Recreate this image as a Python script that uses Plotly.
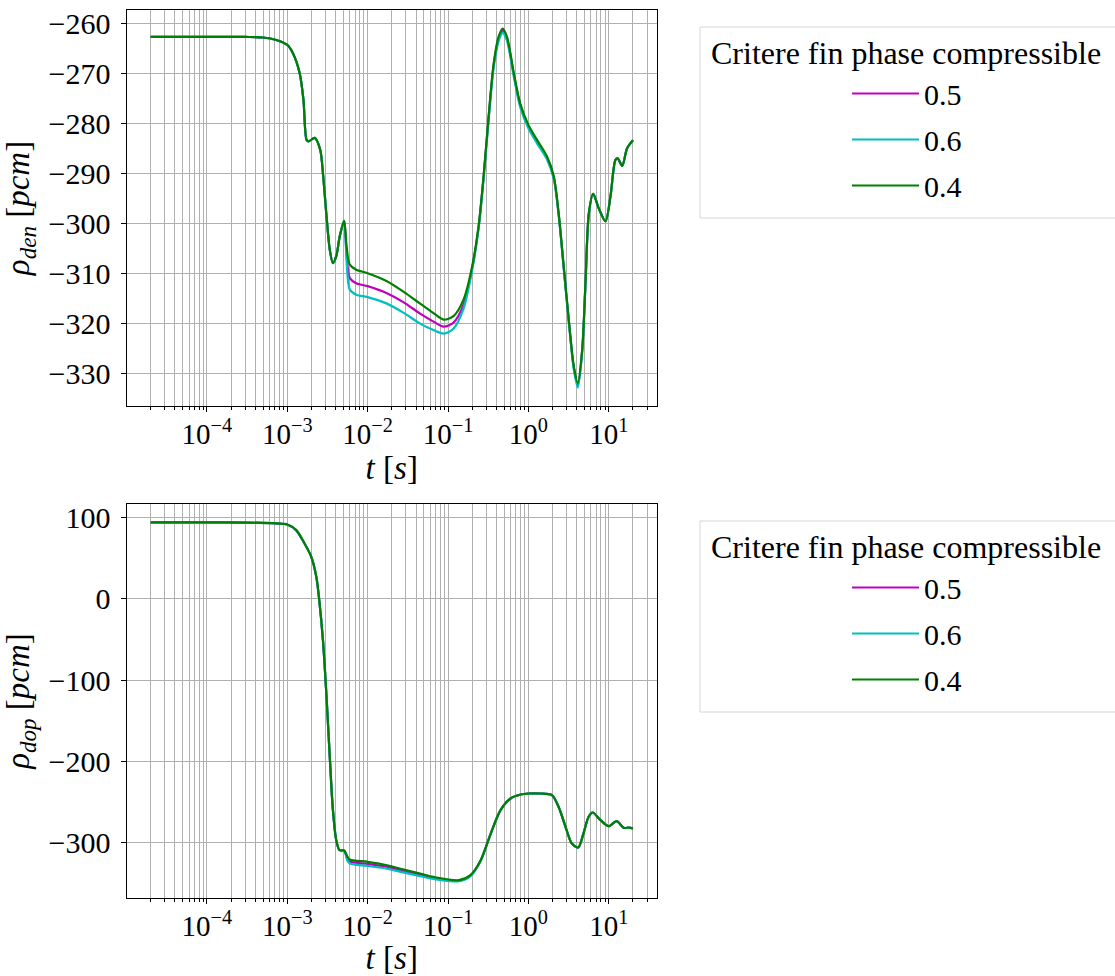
import plotly.graph_objects as go
import numpy as np

# ---------------- data ----------------
series_names = ["0.5", "0.6", "0.4"]
series_colors = ["#bf00bf", "#00bfbf", "#008000"]

t_den = [2e-5, 1e-4, 3e-4, 5e-4, 7.3e-4, 1e-3, 1.18e-3, 1.43e-3, 1.59e-3, 1.74e-3,
         1.85e-3, 2.2e-3, 2.57e-3, 2.8e-3, 3.08e-3, 3.38e-3, 3.7e-3, 4.07e-3, 4.5e-3, 5.1e-3,
         5.47e-3, 6e-3, 7.2e-3, 1e-2, 1.74e-2, 2.78e-2, 4.5e-2, 6.6e-2, 8.8e-2, 0.117,
         0.156, 0.2, 0.24, 0.277, 0.32, 0.37, 0.427, 0.479, 0.54, 0.66,
         0.79, 1.0, 1.28, 1.7, 2.07, 2.38, 2.75, 3.18, 3.67, 4.12,
         4.67, 5.13, 5.65, 6.4, 7.5, 9.1, 10.5, 12.1, 12.9, 14.7,
         16.9, 20.0]

den_04 = [-262.6, -262.6, -262.6, -262.7, -263.2, -264.2, -265.9, -269.9, -275.2, -283.2,
          -283.5, -282.8, -285.2, -290.5, -298.5, -305.2, -307.9, -306.5, -302.5, -299.4,
          -304.5, -308.2, -309.2, -309.9, -311.5, -313.6, -316.0, -317.9, -319.2, -318.5,
          -315.2, -308.5, -300.5, -290.5, -278.5, -267.9, -262.5, -260.9, -262.5, -269.9,
          -275.9, -280.2, -283.2, -286.5, -290.5, -297.9, -308.5, -319.2, -328.5, -331.9,
          -325.2, -311.9, -297.9, -294.0, -296.9, -299.5, -294.5, -287.2, -286.9, -288.4,
          -284.9, -283.3]

den_05 = [-262.6, -262.6, -262.6, -262.7, -263.2, -264.2, -265.9, -269.9, -275.2, -283.2,
          -283.5, -282.8, -285.2, -290.5, -298.5, -305.2, -307.9, -306.5, -302.5, -299.4,
          -306.0, -310.9, -311.9, -312.5, -313.9, -315.7, -318.0, -319.6, -320.6, -319.8,
          -316.2, -308.8, -300.7, -290.7, -278.8, -268.2, -262.9, -261.3, -262.9, -270.2,
          -276.2, -280.5, -283.5, -286.8, -290.8, -298.1, -308.7, -319.4, -328.8, -332.3,
          -325.4, -312.0, -298.0, -294.0, -296.9, -299.5, -294.5, -287.2, -286.9, -288.4,
          -284.9, -283.3]

den_06 = [-262.6, -262.6, -262.6, -262.7, -263.2, -264.2, -265.9, -269.9, -275.2, -283.2,
          -283.5, -282.8, -285.2, -290.5, -298.5, -305.2, -307.9, -306.5, -302.5, -299.4,
          -307.5, -313.2, -314.2, -314.7, -316.0, -317.8, -320.0, -321.3, -322.0, -321.0,
          -317.0, -309.2, -301.0, -291.0, -279.2, -268.7, -263.4, -261.8, -263.3, -270.6,
          -276.6, -280.9, -283.9, -287.1, -291.0, -298.3, -308.9, -319.6, -329.1, -332.8,
          -325.7, -312.2, -298.1, -294.0, -296.9, -299.5, -294.5, -287.2, -286.9, -288.4,
          -284.9, -283.3]

t_dop = [2e-5, 1e-4, 3e-4, 7.3e-4, 1e-3, 1.29e-3, 1.64e-3, 1.99e-3, 2.3e-3, 2.5e-3,
         2.78e-3, 3.08e-3, 3.38e-3, 3.7e-3, 4.07e-3, 4.47e-3, 5.1e-3, 5.6e-3, 6e-3, 1e-2,
         1.74e-2, 2.5e-2, 4.5e-2, 6.6e-2, 0.137, 0.19, 0.255, 0.34, 0.45, 0.6,
         0.8, 1.0, 1.4, 1.96, 2.38, 2.9, 3.47, 4.17, 4.84, 5.6,
         6.3, 7.9, 10.0, 12.5, 15.4, 17.8, 20.0]

dop_04 = [93.7, 93.6, 93.5, 92.4, 91.2, 84.2, 67.8, 51.4, 26.8, -1.8,
          -51.0, -120.7, -194.5, -260.0, -296.9, -309.2, -309.5, -317.0, -320.6, -323.5,
          -327.6, -331.7, -337.8, -342.0, -346.0, -339.9, -321.5, -288.7, -260.0, -245.6,
          -240.7, -239.5, -239.5, -241.5, -256.0, -280.5, -301.0, -305.8, -288.7, -268.3,
          -262.8, -272.3, -279.7, -273.5, -281.7, -281.3, -282.5]

dop_05 = [93.7, 93.6, 93.5, 92.4, 91.2, 84.2, 67.8, 51.4, 26.8, -1.8,
          -51.0, -120.7, -194.5, -260.0, -296.9, -309.2, -309.5, -319.5, -323.0, -326.0,
          -329.5, -333.5, -339.5, -343.5, -346.8, -340.4, -321.8, -288.7, -260.0, -245.6,
          -240.7, -239.5, -239.5, -241.5, -256.0, -280.5, -301.0, -305.8, -288.7, -268.3,
          -262.8, -272.3, -279.7, -273.5, -281.7, -281.3, -282.5]

dop_06 = [93.7, 93.6, 93.5, 92.4, 91.2, 84.2, 67.8, 51.4, 26.8, -1.8,
          -51.0, -120.7, -194.5, -260.0, -296.9, -309.2, -309.5, -322.0, -325.5, -328.5,
          -332.0, -335.5, -341.0, -344.5, -347.2, -341.0, -322.5, -289.0, -260.0, -245.6,
          -240.7, -239.5, -239.5, -241.5, -256.0, -280.5, -301.0, -305.8, -288.7, -268.3,
          -262.8, -272.3, -279.7, -273.5, -281.7, -281.3, -282.5]

major_ticks = [1e-4, 1e-3, 1e-2, 1e-1, 1e0, 1e1]
major_text = ["10<sup>−4</sup>", "10<sup>−3</sup>", "10<sup>−2</sup>",
              "10<sup>−1</sup>", "10<sup>0</sup>", "10<sup>1</sup>"]
den_ticks = [-330, -320, -310, -300, -290, -280, -270, -260]
dop_ticks = [-300, -200, -100, 0, 100]

legend_title = "Critere fin phase compressible"

# ---------------- figure ----------------
W, H = 1115, 976
FONT = "Liberation Serif"

minor_ticks = [k * 10.0 ** e for e in range(-5, 2) for k in range(2, 10)]

fig = go.Figure()

for name, color, yv in zip(series_names, series_colors, [den_05, den_06, den_04]):
    fig.add_trace(go.Scatter(x=t_den, y=yv, mode="lines", name=name,
                             line=dict(color=color, width=2.2, shape="spline", smoothing=0.8),
                             xaxis="x", yaxis="y", legend="legend", legendgroup="a" + name))
for name, color, yv in zip(series_names, series_colors, [dop_05, dop_06, dop_04]):
    fig.add_trace(go.Scatter(x=t_dop, y=yv, mode="lines", name=name,
                             line=dict(color=color, width=2.2, shape="spline", smoothing=0.8),
                             xaxis="x2", yaxis="y2", legend="legend2", legendgroup="b" + name))

def px_x(p):
    return p / W

def px_y(p):
    return 1 - p / H

xdom = [px_x(126.5), px_x(657)]

common_x = dict(type="log", range=[-5.0, 1.6], domain=xdom,
                tickmode="array", tickvals=major_ticks, ticktext=major_text,
                ticks="outside", ticklen=5, tickwidth=1, tickcolor="black",
                showgrid=True, gridcolor="#b0b0b0", gridwidth=1,
                minor=dict(tickmode="array", tickvals=minor_ticks, ticks="outside",
                           ticklen=3, tickcolor="black", showgrid=True,
                           gridcolor="#b0b0b0", gridwidth=1),
                showline=True, linecolor="black", linewidth=1, mirror=True,
                zeroline=False, automargin=False, ticklabelstandoff=-3,
                tickfont=dict(family=FONT, size=29, color="black"),
                title=dict(text="<i>t</i> [<i>s</i>]", standoff=0,
                           font=dict(family=FONT, size=33, color="black")))

common_y = dict(ticks="outside", ticklen=5, tickwidth=1, tickcolor="black",
                showgrid=True, gridcolor="#b0b0b0", gridwidth=1,
                showline=True, linecolor="black", linewidth=1, mirror=True,
                zeroline=False, automargin=False, tickmode="array",
                tickfont=dict(family=FONT, size=30, color="black"),
                ticklabelstandoff=4)

fig.update_layout(
    width=W, height=H,
    margin=dict(l=0, r=0, t=0, b=0),
    paper_bgcolor="white", plot_bgcolor="white",
    font=dict(family=FONT, size=27, color="black"),
    xaxis=dict(anchor="y", **common_x),
    xaxis2=dict(anchor="y2", **common_x),
    yaxis=dict(anchor="x", domain=[px_y(406), px_y(10)], range=[-336.5, -257.2],
               tickvals=den_ticks,
               title=dict(text="<i>ρ</i><sub><i>den</i></sub> [<i>pcm</i>]", standoff=10,
                          font=dict(family=FONT, size=33, color="black")),
               **common_y),
    yaxis2=dict(anchor="x2", domain=[px_y(898), px_y(504)], range=[-367.9, 116.3],
                tickvals=dop_ticks,
                title=dict(text="<i>ρ</i><sub><i>dop</i></sub> [<i>pcm</i>]", standoff=10,
                           font=dict(family=FONT, size=33, color="black")),
                **common_y),
    legend=dict(x=px_x(847), y=px_y(67.5), xanchor="left", yanchor="top",
                bgcolor="rgba(0,0,0,0)", borderwidth=0, tracegroupgap=4, itemwidth=67,
                font=dict(family=FONT, size=30, color="black")),
    legend2=dict(x=px_x(847), y=px_y(561.5), xanchor="left", yanchor="top",
                 bgcolor="rgba(0,0,0,0)", borderwidth=0, tracegroupgap=4, itemwidth=67,
                 font=dict(family=FONT, size=30, color="black")),
)

# legend frames and titles
for top, bottom, ty in [(27, 218, 53.3), (521, 712, 546.7)]:
    fig.add_shape(type="rect", xref="paper", yref="paper",
                  x0=px_x(700), x1=px_x(1130), y0=px_y(bottom), y1=px_y(top),
                  line=dict(color="#d6d6d6", width=1), fillcolor="rgba(255,255,255,0.8)",
                  layer="below")
    fig.add_annotation(text=legend_title, xref="paper", yref="paper",
                       x=px_x(906), y=px_y(ty), xanchor="center", yanchor="middle",
                       showarrow=False, font=dict(family=FONT, size=32, color="black"))

fig.write_html("out.html", config={"displayModeBar": False},
               post_script="document.body.style.margin='0px';")
